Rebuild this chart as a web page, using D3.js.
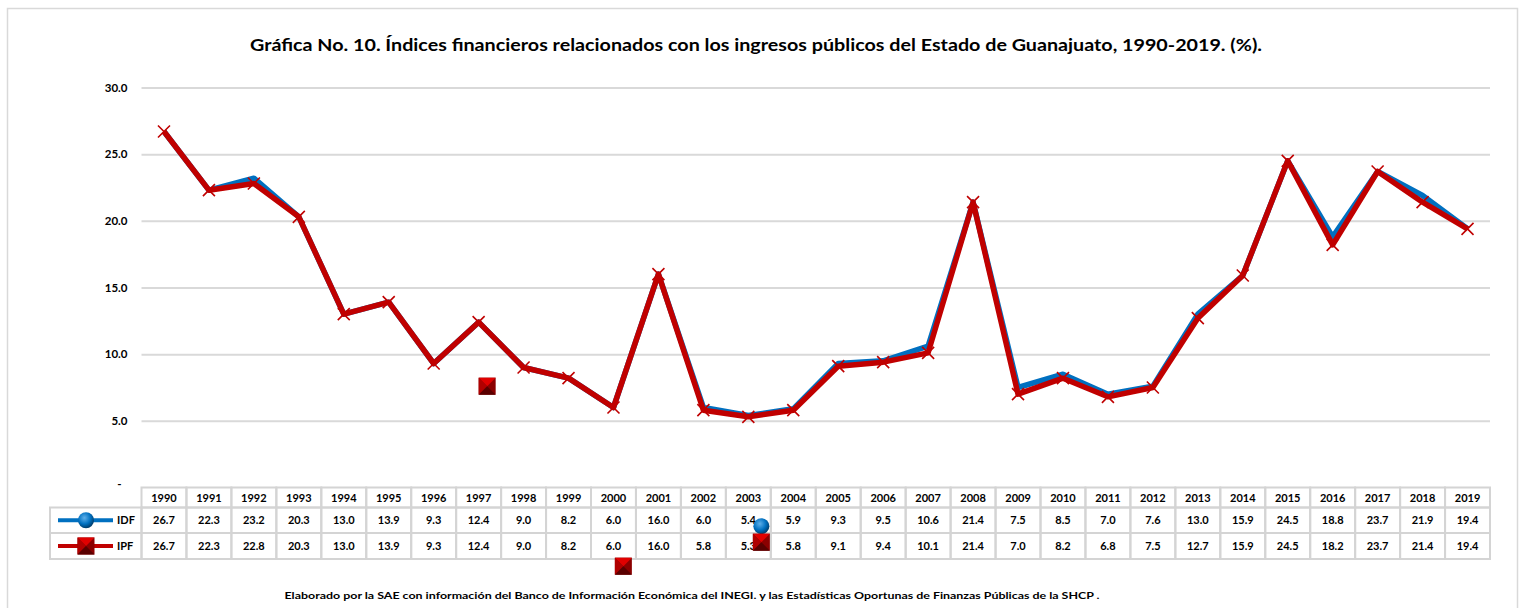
<!DOCTYPE html>
<html>
<head>
<meta charset="utf-8">
<script src="https://cdn.jsdelivr.net/npm/d3@7"></script>
<style>
  body { margin: 0; background: #fff; }
  svg { font-family: Lato, "Open Sans", sans-serif; }
</style>
</head>
<body>
<svg id="chart" width="1525" height="608"></svg>
<script>
var years = [1990, 1991, 1992, 1993, 1994, 1995, 1996, 1997, 1998, 1999,
             2000, 2001, 2002, 2003, 2004, 2005, 2006, 2007, 2008, 2009,
             2010, 2011, 2012, 2013, 2014, 2015, 2016, 2017, 2018, 2019];
var idf = [26.7, 22.3, 23.2, 20.3, 13.0, 13.9, 9.3, 12.4, 9.0, 8.2,
           6.0, 16.0, 6.0, 5.4, 5.9, 9.3, 9.5, 10.6, 21.4, 7.5,
           8.5, 7.0, 7.6, 13.0, 15.9, 24.5, 18.8, 23.7, 21.9, 19.4];
var ipf = [26.7, 22.3, 22.8, 20.3, 13.0, 13.9, 9.3, 12.4, 9.0, 8.2,
           6.0, 16.0, 5.8, 5.3, 5.8, 9.1, 9.4, 10.1, 21.4, 7.0,
           8.2, 6.8, 7.5, 12.7, 15.9, 24.5, 18.2, 23.7, 21.4, 19.4];
var yTicks = [0, 5, 10, 15, 20, 25, 30];
// loose marker symbols left over in the original picture (year, shift within the year cell, value, kind)
var strayMarks = [
  {year: 1997, shift: 0.19, value: 7.6, kind: "square"},
  {year: 2000, shift: 0.22, value: -5.9, kind: "square"},
  {year: 2003, shift: 0.29, value: -2.9, kind: "circle"},
  {year: 2003, shift: 0.29, value: -4.1, kind: "square"}
];

var title = "Gráfica No. 10. Índices financieros relacionados con los ingresos públicos del Estado de Guanajuato, 1990-2019. (%).";
var note = "Elaborado por la SAE con información del Banco de Información Económica del INEGI. y las Estadísticas Oportunas de Finanzas Públicas de la SHCP .";

var blue = "#0070C0", red = "#C00000", grid = "#d9d9d9";

var svg = d3.select("#chart");

// outer frame
svg.append("rect")
   .attr("x", 7.5).attr("y", 8.5)
   .attr("width", 1510).attr("height", 620)
   .attr("fill", "none").attr("stroke", grid).attr("stroke-width", 1.5);

svg.append("text")
   .attr("x", 756).attr("y", 51)
   .attr("text-anchor", "middle")
   .style("font-weight", "bold").style("font-size", "17px")
   .attr("textLength", 1012).attr("lengthAdjust", "spacingAndGlyphs")
   .text(title);

var left = 141.5, right = 1490;
var x = d3.scaleBand().domain(years).range([left, right]);
var y = d3.scaleLinear().domain([0, 30]).range([487.5, 87.5]);

// gridlines + labels
var yAxis = d3.axisLeft(y)
    .tickValues(yTicks)
    .tickSize(-(right - left))
    .tickFormat(function(d) { return d === 0 ? "-" : d3.format(".1f")(d); });

var ga = svg.append("g")
    .attr("transform", "translate(" + left + ",0)")
    .call(yAxis);
ga.select(".domain").remove();
ga.selectAll(".tick line").attr("stroke", grid).attr("stroke-width", 2);
ga.selectAll(".tick text")
  .attr("x", -14)
  .style("font-size", "11.5px").style("font-weight", "bold")
  .style("font-family", "Lato, sans-serif").attr("fill", "#000");
ga.selectAll(".tick").filter(function(d) { return d === 0; }).select("line").remove();
ga.selectAll(".tick").filter(function(d) { return d === 0; }).select("text").attr("dy", "0").attr("x", -20);

var cx = function(d, i) { return x(years[i]) + x.bandwidth() / 2; };

var line = d3.line()
    .x(cx)
    .y(function(d) { return y(d); });

svg.append("path").datum(idf)
   .attr("d", line).attr("fill", "none")
   .attr("stroke", blue).attr("stroke-width", 5.5).attr("stroke-linejoin", "round");

svg.append("path").datum(ipf)
   .attr("d", line).attr("fill", "none")
   .attr("stroke", red).attr("stroke-width", 5.5).attr("stroke-linejoin", "round");

// X markers on IPF
svg.append("g").selectAll("path").data(ipf).enter().append("path")
    .attr("transform", function(d, i) { return "translate(" + cx(d, i) + "," + y(d) + ")"; })
    .attr("d", "M-6,-6L6,6M-6,6L6,-6")
    .attr("stroke", red).attr("stroke-width", 1.6).attr("fill", "none");

// marker symbol defs
var defs = svg.append("defs");
var rg = defs.append("radialGradient").attr("id", "ball").attr("cx", "40%").attr("cy", "35%").attr("r", "65%");
rg.append("stop").attr("offset", "0%").attr("stop-color", "#5fb0ea");
rg.append("stop").attr("offset", "60%").attr("stop-color", "#0070C0");
rg.append("stop").attr("offset", "100%").attr("stop-color", "#003d6b");

function drawCircle(g, px, py) {
  g.append("circle").attr("cx", px).attr("cy", py).attr("r", 8).attr("fill", "url(#ball)");
}
function drawSquare(g, px, py) {
  var s = 8.5;
  var sq = g.append("g").attr("transform", "translate(" + px + "," + py + ")");
  sq.append("rect").attr("x", -s).attr("y", -s).attr("width", 2 * s).attr("height", 2 * s).attr("fill", "#8b0000");
  sq.append("path").attr("d", "M" + (-s) + "," + (-s) + "L" + s + "," + (-s) + "L0,0Z").attr("fill", "#e00000");
  sq.append("path").attr("d", "M" + (-s) + "," + (-s) + "L" + (-s) + "," + s + "L0,0Z").attr("fill", "#b00000");
  sq.append("path").attr("d", "M" + s + "," + s + "L" + (-s) + "," + s + "L0,0Z").attr("fill", "#5a0000");
}

// data table
var rowTop = [487.5, 507.5, 533, 559];
var tbl = svg.append("g");
var tColor = "#d4d4d4";

years.forEach(function(yr) {
  for (var r = 0; r < 3; r++) {
    tbl.append("rect")
       .attr("x", x(yr)).attr("y", rowTop[r])
       .attr("width", x.bandwidth()).attr("height", rowTop[r + 1] - rowTop[r])
       .attr("fill", "none").attr("stroke", tColor).attr("stroke-width", 2);
  }
});
[1, 2].forEach(function(r) {
  tbl.append("rect")
     .attr("x", 50).attr("y", rowTop[r])
     .attr("width", left - 50).attr("height", rowTop[r + 1] - rowTop[r])
     .attr("fill", "none").attr("stroke", tColor).attr("stroke-width", 2);
});

var rows = [years, idf, ipf];
rows.forEach(function(vals, r) {
  tbl.append("g").selectAll("text").data(vals).enter().append("text")
     .attr("x", cx)
     .attr("y", (rowTop[r] + rowTop[r + 1]) / 2 + 4)
     .attr("text-anchor", "middle")
     .style("font-size", "11px").style("font-weight", "bold")
     .text(function(d) { return r === 0 ? d : d3.format(".1f")(d); });
});

// legend keys in the row headers
var keys = [{name: "IDF", color: blue, kind: "circle"}, {name: "IPF", color: red, kind: "square"}];
keys.forEach(function(k, j) {
  var my = (rowTop[j + 1] + rowTop[j + 2]) / 2;
  tbl.append("line").attr("x1", 58).attr("x2", 113).attr("y1", my).attr("y2", my)
     .attr("stroke", k.color).attr("stroke-width", 4);
  if (k.kind === "circle") drawCircle(tbl, 86, my); else drawSquare(tbl, 86, my);
  tbl.append("text").attr("x", 117).attr("y", my + 4)
     .style("font-size", "11px").style("font-weight", "bold").text(k.name);
});

// stray markers
var sg = svg.append("g");
strayMarks.forEach(function(m) {
  var px = x(m.year) + x.bandwidth() * (0.5 + m.shift), py = y(m.value);
  if (m.kind === "circle") drawCircle(sg, px, py); else drawSquare(sg, px, py);
});

svg.append("text")
   .attr("x", 692).attr("y", 599)
   .attr("text-anchor", "middle")
   .style("font-weight", "bold").style("font-size", "10px")
   .attr("textLength", 815).attr("lengthAdjust", "spacingAndGlyphs")
   .text(note);
</script>
</body>
</html>
